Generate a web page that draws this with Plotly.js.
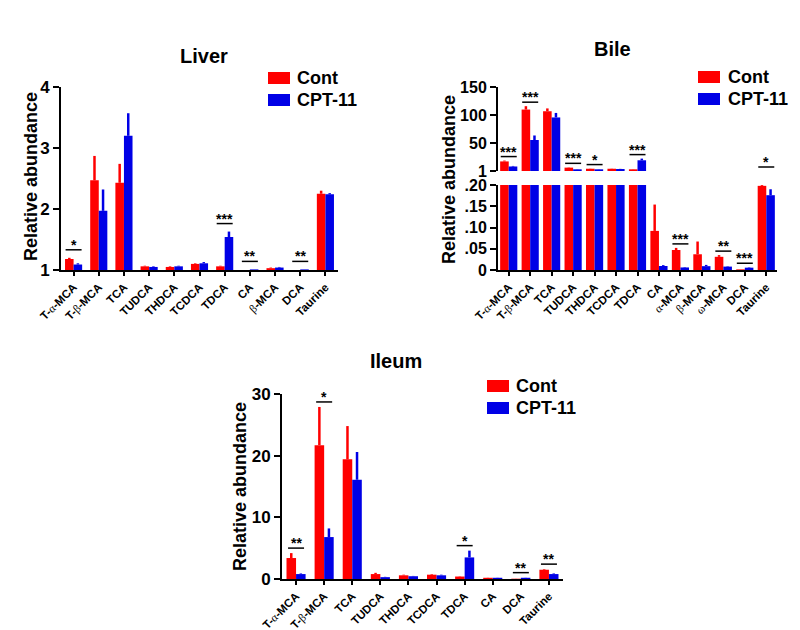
<!DOCTYPE html>
<html>
<head>
<meta charset="utf-8">
<script src="https://cdn.plot.ly/plotly-3.0.1.min.js"></script>
<style>
body { margin: 0; background: #fff; }
#chart { width: 800px; height: 630px; }
</style>
</head>
<body>
<div id="chart"></div>
<script>
const groups = ['Cont', 'CPT-11']
const colors = ['#ff0000', '#0000e6']

// liver
const liverCats = ['T-α-MCA', 'T-β-MCA', 'TCA', 'TUDCA', 'THDCA', 'TCDCA', 'TDCA', 'CA', 'β-MCA', 'DCA', 'Taurine']
const liverCont = [1.18, 2.47, 2.43, 1.06, 1.05, 1.10, 1.06, 1.00, 1.03, 1.00, 2.25]
const liverContErr = [0.02, 0.40, 0.31, 0.01, 0.01, 0.01, 0.01, 0, 0.01, 0, 0.05]
const liverCpt = [1.09, 1.97, 3.20, 1.05, 1.06, 1.11, 1.54, 1.01, 1.04, 1.01, 2.24]
const liverCptErr = [0.02, 0.35, 0.37, 0.01, 0.01, 0.02, 0.09, 0, 0.01, 0, 0.02]
const liverSig = ['*', '', '', '', '', '', '***', '**', '', '**', '']

// bile (split axis: 1-150 on top, 0-.20 below)
const bileCats = ['T-α-MCA', 'T-β-MCA', 'TCA', 'TUDCA', 'THDCA', 'TCDCA', 'TDCA', 'CA', 'α-MCA', 'β-MCA', 'ω-MCA', 'DCA', 'Taurine']
const bileCont = [18, 110, 107, 7, 5, 5, 4, 0.092, 0.047, 0.037, 0.031, 0.0015, 0.198]
const bileContErr = [1.5, 6, 5, 0.5, 0.3, 0.3, 0.3, 0.062, 0.005, 0.030, 0.004, 0, 0.033]
const bileCpt = [9, 56, 96, 4, 4, 4.5, 20, 0.0094, 0.006, 0.009, 0.008, 0.0055, 0.176]
const bileCptErr = [1, 8, 8, 0.3, 0.3, 0.3, 3, 0.002, 0.001, 0.003, 0.001, 0.001, 0.014]
const bileSig = ['***', '***', '', '***', '*', '', '***', '', '***', '', '**', '***', '*']
const bileTopTicks = [1, 50, 100, 150]
const bileLowTicks = [0, 0.05, 0.10, 0.15, 0.20]
const bileLowText = ['0', '.05', '.10', '.15', '.20']

// ileum
const ileumCats = ['T-α-MCA', 'T-β-MCA', 'TCA', 'TUDCA', 'THDCA', 'TCDCA', 'TDCA', 'CA', 'DCA', 'Taurine']
const ileumCont = [3.4, 21.7, 19.4, 0.8, 0.6, 0.7, 0.4, 0.2, 0.05, 1.5]
const ileumContErr = [0.8, 6.2, 5.4, 0.2, 0.1, 0.1, 0.05, 0.02, 0.01, 0.1]
const ileumCpt = [0.8, 6.8, 16.1, 0.3, 0.45, 0.6, 3.5, 0.2, 0.2, 0.8]
const ileumCptErr = [0.1, 1.4, 4.5, 0.05, 0.05, 0.1, 1.1, 0.02, 0.02, 0.1]
const ileumSig = ['**', '*', '', '', '', '', '*', '', '**', '**']

const FONT = 'Liberation Sans, Arial, sans-serif'
const px = x => x / 800
const py = y => 1 - y / 630

// greek letters in the tick labels are set in a serif face
const greek = s => s.replace(/([αβω])/g, "<span style='font-family:Liberation Serif;font-weight:normal'>$1</span>")

function barPair(cats, cont, contErr, cpt, cptErr, xa, ya, w) {
    return [[cont, contErr], [cpt, cptErr]].map(([v, e], k) => ({
        type: 'bar',
        x: cats,
        y: v,
        xaxis: xa,
        yaxis: ya,
        name: groups[k],
        width: w,
        offset: k === 0 ? -w : 0,
        marker: {color: colors[k]},
        error_y: {type: 'data', symmetric: false, array: e, arrayminus: v.map(() => 0),
                  color: colors[k], thickness: 2.5, width: 0},
        showlegend: false,
        hoverinfo: 'x+y+name'
    }))
}

const annotations = []
const shapes = []

function sigMarks(cont, contErr, cpt, cptErr, sig, xa, pickY, off) {
    sig.forEach((s, i) => {
        if (!s) return
        const top = Math.max(cont[i] + contErr[i], cpt[i] + cptErr[i])
        const [ya, yv] = pickY(top)
        shapes.push({type: 'line', xref: xa, yref: ya,
            xsizemode: 'pixel', xanchor: i, x0: -8, x1: 8,
            ysizemode: 'pixel', yanchor: yv, y0: off, y1: off,
            line: {color: '#000', width: 1.5}})
        annotations.push({xref: xa, yref: ya, x: i, y: yv, text: s, showarrow: false,
            yanchor: 'bottom', yshift: off - 5,
            font: {family: FONT, size: 14, weight: 'bold', color: '#000'}})
    })
}

sigMarks(liverCont, liverContErr, liverCpt, liverCptErr, liverSig, 'x', t => ['y', t], 8)
sigMarks(bileCont, bileContErr, bileCpt, bileCptErr, bileSig, 'x2',
    t => t > 0.2 ? ['y2', Math.max(t, 1)] : ['y3', t], 4)
sigMarks(ileumCont, ileumContErr, ileumCpt, ileumCptErr, ileumSig, 'x3', t => ['y4', t], 5)

// panel titles and axis titles
function label(text, x, y, size, angle) {
    annotations.push({xref: 'paper', yref: 'paper', x: px(x), y: py(y), text: text,
        showarrow: false, textangle: angle || 0, xanchor: 'center', yanchor: 'middle',
        font: {family: FONT, size: size, weight: 'bold', color: '#000'}})
}
label('Liver', 204, 56, 20)
label('Bile', 612, 49, 20)
label('Ileum', 396, 361, 20)
label('Relative abundance', 31, 177, 18, -90)
label('Relative abundance', 449, 180, 18, -90)
label('Relative abundance', 240, 487, 18, -90)

// legends, one per panel
function legend(left, top, textX) {
    groups.forEach((g, k) => {
        const y0 = top + k * 22
        shapes.push({type: 'rect', xref: 'paper', yref: 'paper',
            x0: px(left), x1: px(left + 22), y0: py(y0), y1: py(y0 + 12),
            fillcolor: colors[k], line: {width: 0}})
        annotations.push({xref: 'paper', yref: 'paper', x: px(textX), y: py(y0 + 6),
            text: g, showarrow: false, xanchor: 'left', yanchor: 'middle',
            font: {family: FONT, size: 18, weight: 'bold', color: '#000'}})
    })
}
legend(268, 72, 295)
legend(698, 71, 726)
legend(487, 380, 514)

const data = [
    ...barPair(liverCats, liverCont, liverContErr, liverCpt, liverCptErr, 'x', 'y', 0.34),
    ...barPair(bileCats, bileCont, bileContErr, bileCpt, bileCptErr, 'x2', 'y2', 0.4),
    ...barPair(bileCats, bileCont, bileContErr, bileCpt, bileCptErr, 'x2', 'y3', 0.4),
    ...barPair(ileumCats, ileumCont, ileumContErr, ileumCpt, ileumCptErr, 'x3', 'y4', 0.34)
]

const axisStyle = {
    showline: true, linecolor: '#000', linewidth: 2,
    ticks: 'outside', tickcolor: '#000', tickwidth: 2, ticklen: 6,
    showgrid: false, zeroline: false, fixedrange: true
}
function xAxis(cats, domain, anchor) {
    return Object.assign({}, axisStyle, {
        type: 'category', domain: domain, anchor: anchor,
        tickvals: cats, ticktext: cats.map(greek), tickangle: -45, ticklen: 4,
        tickfont: {family: FONT, size: 11.5, weight: 'bold', color: '#000'}
    })
}
function yAxis(domain, anchor, range, vals, text, size) {
    return Object.assign({}, axisStyle, {
        domain: domain, anchor: anchor, range: range,
        tickvals: vals, ticktext: text || vals.map(String),
        tickfont: {family: FONT, size: size || 17, weight: 'bold', color: '#000'}
    })
}

const layout = {
    width: 800, height: 630,
    margin: {l: 0, r: 0, t: 0, b: 0},
    paper_bgcolor: '#fff', plot_bgcolor: 'rgba(0,0,0,0)',
    showlegend: false,
    barmode: 'group',
    xaxis: xAxis(liverCats, [px(61), px(338)], 'y'),
    yaxis: yAxis([py(270), py(87)], 'x', [1, 4], [1, 2, 3, 4]),
    xaxis2: xAxis(bileCats, [px(498), px(777)], 'y3'),
    yaxis2: yAxis([py(171), py(87)], 'x2', [1, 150], bileTopTicks, null, 16),
    yaxis3: yAxis([py(270), py(185)], 'x2', [0, 0.2], bileLowTicks, bileLowText, 16),
    xaxis3: xAxis(ileumCats, [px(282), px(563)], 'y4'),
    yaxis4: yAxis([py(579), py(394)], 'x3', [0, 30], [0, 10, 20, 30]),
    shapes: shapes,
    annotations: annotations
}

Plotly.newPlot('chart', data, layout, {staticPlot: true})
</script>
</body>
</html>
